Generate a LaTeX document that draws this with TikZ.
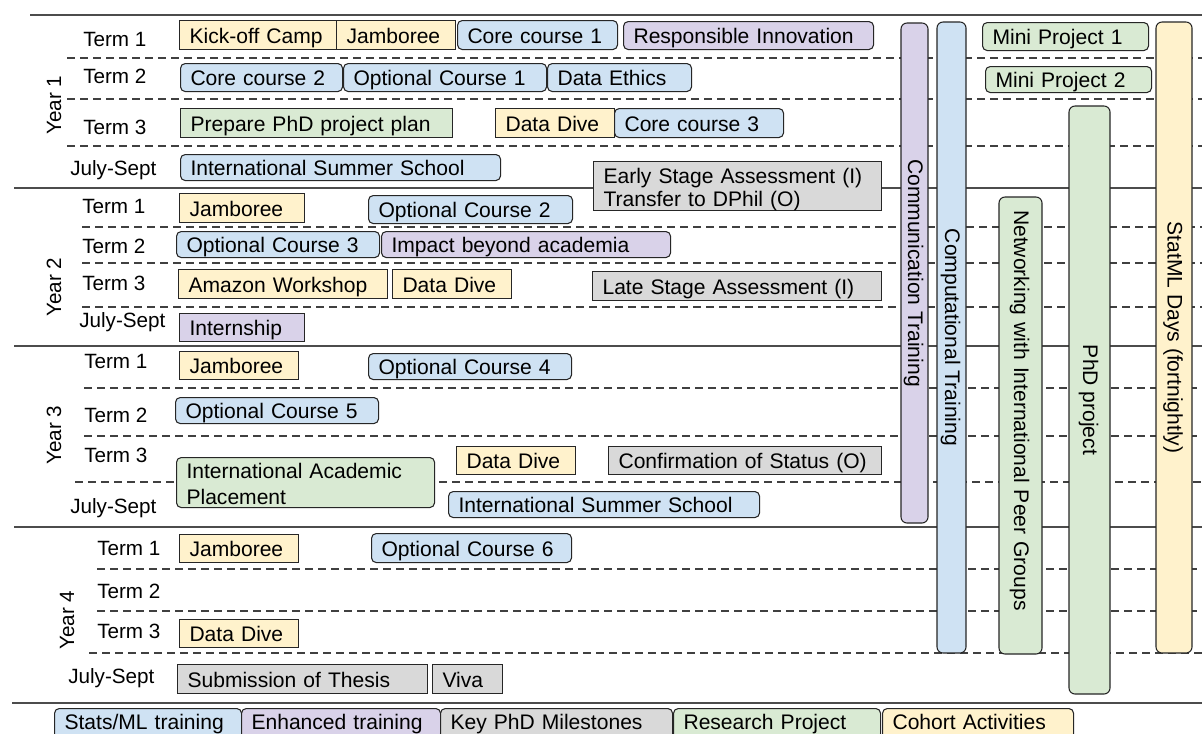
\documentclass[tikz,border=0pt]{standalone}
\usepackage{fontspec}
\setmainfont{Liberation Sans}
\usetikzlibrary{positioning}

\definecolor{cblue}{HTML}{CFE2F3}
\definecolor{cpurp}{HTML}{D9D2E9}
\definecolor{cgrn}{HTML}{D9EAD3}
\definecolor{cgray}{HTML}{D9D9D9}
\definecolor{cyel}{HTML}{FFF2CC}

\tikzset{
	box/.style={draw=black!85, line width=0.8pt, inner xsep=7.5pt, inner ysep=0pt, align=left,
		font=\fontsize{15.8}{19.5}\selectfont, text height=12.5pt, text depth=0pt},
	sq/.style={box},
	rnd/.style={box, rounded corners=3.5pt},
	legend/.style={rnd, text height=11pt, text depth=2pt},
	cohort/.style={fill=cyel},
	stats/.style={fill=cblue},
	enh/.style={fill=cpurp},
	mile/.style={fill=cgray},
	res/.style={fill=cgrn},
	term/.style={anchor=base west, inner sep=0pt, font=\fontsize{15.5}{18}\selectfont},
	year/.style={rotate=90, inner sep=0pt, font=\fontsize{15.5}{18}\selectfont},
	strip/.style={draw=black!85, line width=0.8pt, rounded corners=4.5pt, inner ysep=0pt, rotate=-90,
		font=\fontsize{15.8}{19.5}\selectfont, text height=11pt, text depth=1.5pt},
	solidline/.style={draw=black!70, line width=1.1pt},
	dashline/.style={draw=black!75, line width=0.9pt, dash pattern=on 6pt off 3.75pt},
}

% box from (x1,y1) to (x2,y2), in pixels of the sheet
\newcommand{\tbox}[7]{%
	\pgfmathsetmacro\boxw{(#5-#3)*0.75}%
	\pgfmathsetmacro\boxh{(#6-#4)*0.75}%
	\pgfmathsetmacro\boxt{(#5-#3-20)*0.75}%
	\node[#1, anchor=north west, minimum width=\boxw pt, minimum height=\boxh pt, text width=\boxt pt] (#2) at (#3,#4) {#7};%
}
% upright bar, text reads downwards
\newcommand{\tstrip}[7]{%
	\pgfmathsetmacro\boxw{(#6-#4)*0.75}%
	\pgfmathsetmacro\boxh{(#5-#3)*0.75}%
	\node[strip, #1, minimum width=\boxw pt, minimum height=\boxh pt] (#2) at ({(#3+#5)/2},{(#4+#6)/2}) {#7};%
}

\begin{document}
\begin{tikzpicture}[x=0.75pt, y=-0.75pt]
	\useasboundingbox (0,0) rectangle (1202,733);
	\clip (0,0) rectangle (1202,733);
	\fill[white] (0,0) rectangle (1202,733);

	% grid of years and terms
	\foreach \yy/\xx in {15/30, 188/14, 346/14, 527/14, 703/12}
		\draw[solidline] (\xx,\yy) -- (1202,\yy);
	\foreach \yy/\xx in {58/67, 99/67, 146/67, 227/82, 263/82, 307/82, 388/84, 436/84, 482/75, 569/97, 611/97, 653/89}
		\draw[dashline] (\xx,\yy) -- (1202,\yy);

	\node[year] (y1) at (54,105) {Year 1};
	\node[year] (y2) at (54,287) {Year 2};
	\node[year] (y3) at (54,435) {Year 3};
	\node[year] (y4) at (67,620) {Year 4};

	\node[term] (y1t1) at (83,46) {Term 1};
	\node[term] (y1t2) at (83,83) {Term 2};
	\node[term] (y1t3) at (83,134) {Term 3};
	\node[term] (y1js) at (70,175) {July-Sept};
	\node[term] (y2t1) at (82,213) {Term 1};
	\node[term] (y2t2) at (82,253) {Term 2};
	\node[term] (y2t3) at (82,290) {Term 3};
	\node[term] (y2js) at (79,327) {July-Sept};
	\node[term] (y3t1) at (84,368) {Term 1};
	\node[term] (y3t2) at (84,422) {Term 2};
	\node[term] (y3t3) at (84,462) {Term 3};
	\node[term] (y3js) at (70,513) {July-Sept};
	\node[term] (y4t1) at (97,555) {Term 1};
	\node[term] (y4t2) at (97,598) {Term 2};
	\node[term] (y4t3) at (97,638) {Term 3};
	\node[term] (y4js) at (68,683) {July-Sept};

	% year 1
	\tbox{sq, cohort}{kickoff}{179}{20}{336}{49}{Kick-off Camp}
	\tbox{sq, cohort}{jam1}{336}{20}{455}{49}{Jamboree}
	\tbox{rnd, stats}{core1}{457}{20}{617}{49}{Core course 1}
	\tbox{rnd, enh}{respinn}{623}{21}{873}{49}{Responsible Innovation}
	\tbox{rnd, stats}{core2}{180}{63}{342}{91}{Core course 2}
	\tbox{rnd, stats}{opt1}{343}{63}{546}{91}{Optional Course 1}
	\tbox{rnd, stats}{ethics}{547}{63}{691}{91}{Data Ethics}
	\tbox{sq, res}{plan}{180}{108}{452}{137}{Prepare PhD project plan}
	\tbox{sq, cohort}{dive1}{495}{108}{614}{137}{Data Dive}
	\tbox{rnd, stats}{core3}{614}{108}{783}{137}{Core course 3}
	\tbox{rnd, stats}{iss1}{180}{154}{500}{180}{International Summer School}
	\tbox{sq, mile, font=\fontsize{15.8}{17}\selectfont, text height=11pt, text depth=14.5pt}{esa}{593}{161}{881}{210}{Early Stage Assessment (I)\\Transfer to DPhil (O)}

	% year 2
	\tbox{sq, cohort}{jam2}{179}{193}{304}{222}{Jamboree}
	\tbox{rnd, stats}{opt2}{368}{195}{572}{223}{Optional Course 2}
	\tbox{rnd, stats}{opt3}{176}{231}{379}{257}{Optional Course 3}
	\tbox{rnd, enh}{impact}{381}{231}{670}{257}{Impact beyond academia}
	\tbox{sq, cohort}{amazon}{178}{269}{387}{298}{Amazon Workshop}
	\tbox{sq, cohort}{dive2}{392}{269}{511}{298}{Data Dive}
	\tbox{sq, mile}{lsa}{592}{271}{881}{300}{Late Stage Assessment (I)}
	\tbox{sq, enh}{intern}{179}{313}{304}{341}{Internship}

	% year 3
	\tbox{sq, cohort}{jam3}{179}{351}{298}{379}{Jamboree}
	\tbox{rnd, stats}{opt4}{368}{353}{571}{379}{Optional Course 4}
	\tbox{rnd, stats}{opt5}{175}{397}{378}{423}{Optional Course 5}
	\tbox{rnd, res, text height=11pt, text depth=17.6pt}{iap}{176}{457}{434}{507}{International Academic\\Placement}
	\tbox{sq, cohort}{dive3}{456}{446}{575}{474}{Data Dive}
	\tbox{sq, mile}{confirm}{608}{446}{881}{474}{Confirmation of Status (O)}
	\tbox{rnd, stats}{iss2}{448}{491}{759}{517}{International Summer School}

	% year 4
	\tbox{sq, cohort}{jam4}{179}{534}{298}{562}{Jamboree}
	\tbox{rnd, stats}{opt6}{371}{533}{571}{562}{Optional Course 6}
	\tbox{sq, cohort}{dive4}{179}{619}{298}{647}{Data Dive}
	\tbox{sq, mile}{thesis}{177}{664}{427}{693}{Submission of Thesis}
	\tbox{sq, mile}{viva}{432}{664}{502}{693}{Viva}

	% running through all years
	\tbox{rnd, res}{mini1}{982}{22}{1148}{50}{Mini Project 1}
	\tbox{rnd, res}{mini2}{985}{66}{1151}{92}{Mini Project 2}
	\tstrip{enh}{comm}{901}{23}{928}{523}{Communication Training}
	\tstrip{stats}{comp}{937}{22}{966}{653}{Computational Training}
	\tstrip{res, align=left, text width=323pt, inner xsep=9.75pt}{network}{999}{197}{1042}{654}{Networking with International Peer Groups}
	\tstrip{res}{phd}{1069}{106}{1110}{694}{PhD project}
	\tstrip{cohort}{statml}{1156}{22}{1192}{653}{StatML Days (fortnightly)}

	% legend
	\tbox{legend, stats}{lgstats}{54}{708}{241}{738}{Stats/ML training}
	\tbox{legend, enh}{lgenh}{241}{708}{440}{738}{Enhanced training}
	\tbox{legend, mile}{lgmile}{440}{708}{672}{738}{Key PhD Milestones}
	\tbox{legend, res}{lgres}{673}{708}{880}{738}{Research Project}
	\tbox{legend, cohort}{lgcoh}{882}{708}{1073}{738}{Cohort Activities}
\end{tikzpicture}
\end{document}
